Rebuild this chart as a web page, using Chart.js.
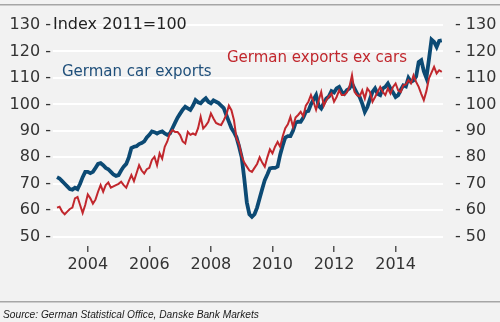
<!DOCTYPE html>
<html>
<head>
<meta charset="utf-8">
<script src="https://cdn.jsdelivr.net/npm/chart.js@4.4.0/dist/chart.umd.min.js"></script>
<style>
  html, body { margin: 0; padding: 0; background: #f2f2f2; }
  #wrap { width: 500px; height: 322px; position: relative; }
</style>
</head>
<body>
<div id="wrap"><canvas id="exports-chart" width="500" height="322"></canvas></div>
<script>
// Monthly index values, Jan 2003 - Jul 2015 (2011 = 100)
const startYear = 2003;
const carExports = [
  72.5, 72, 71, 70, 69, 68, 67.8, 68.5, 68, 70, 72.5, 74.5,
  74.5, 74, 74.5, 76, 77.5, 77.8, 77, 76, 75.5, 74.5, 73.5, 73,
  73.3, 75, 76.5, 77.5, 80, 83.5, 84, 84.2, 85, 85.4, 86, 87.5,
  88.5, 89.8, 89.5, 89, 89.5, 89.8, 89, 88.5, 89, 91, 93, 95,
  96.5, 98, 99.1, 98.5, 97.9, 99.5, 101.6, 100.8, 100.4, 101.5, 102.3, 101,
  100.4, 101.5, 101, 100.5, 99.5, 98.6, 96, 93.5, 91, 89.5, 87.5, 84,
  80, 72, 63, 58.5, 57.5, 58.5, 61, 64.5, 68, 71.4, 73.5, 75.8,
  76, 76, 76.5, 81, 84.5, 87.5, 88, 88, 90, 93, 93.5, 93.4,
  95, 97.2, 97.5, 100, 101.8, 103.5, 99.5, 98.5, 100.5, 102.2, 103, 105,
  104.5, 106, 106.6, 104.7, 104, 105.4, 106, 107.9, 106, 104.1, 102.8, 100.3,
  97.2, 99, 102, 104.7, 106, 104, 103.5, 106, 106.6, 107.9, 106, 104.5,
  102.8, 103.5, 105.5, 107.2, 106.8, 110, 108.5, 109.1, 110.5, 116, 116.7, 112.5,
  110, 117, 124.5, 123.6, 121.7, 124, 124.2
];
const exCars = [
  61, 61.3, 59.5, 58.5, 59.5, 60.5, 61, 64.5, 65, 62, 59, 62,
  66, 64.5, 62.5, 64, 67, 69.5, 67, 69.5, 70.5, 68.5, 69, 69.5,
  70, 70.8, 69.5, 68.5, 71, 73.3, 71, 74, 77, 75, 73.9, 75.5,
  76, 79, 80.2, 77, 81.5, 79.5, 84, 86, 89, 90.3, 89.6, 89.6,
  88.4, 86, 85.2, 89.6, 88.5, 89, 88.5, 91, 95.3, 90.9, 92, 93.4,
  96.6, 94.7, 93, 92.5, 92.2, 94, 96, 99.5, 97.8, 94, 87, 85,
  80.5, 78, 76.5, 75, 74.5, 76, 77.5, 80, 78, 76.4, 80, 83,
  81.5, 84, 85.8, 84, 88, 91, 92.5, 95.3, 91.5, 95, 96, 97.2,
  95.5, 99.5, 101, 103.5, 101, 98, 101.5, 104.7, 99.5, 101.6, 103, 104.1,
  101, 102.8, 105.3, 103.5, 103.5, 104.5, 106.6, 111, 104.7, 103.5, 103, 105.3,
  102.2, 106, 104.7, 101, 102.8, 104.7, 106.6, 104.7, 103.5, 106, 104.1, 106.6,
  107.9, 105.3, 104.7, 107.2, 107.5, 109.1, 108, 111, 108.5, 106.6, 104, 101.6,
  105, 109.8, 112, 114.2, 111.7, 112.9, 112.3
];
const yearTicks = [2004, 2006, 2008, 2010, 2012, 2014];
const indexTicks = [50, 60, 70, 80, 90, 100, 110, 120, 130];

const toPoints = arr => arr.map((v, i) => ({ x: startYear + i / 12, y: v }));

const FONT = "'DejaVu Sans', sans-serif";
const BLUE = '#0c4a74';
const RED = '#c1272d';

// Frame lines, series labels and source note
const decor = {
  id: 'decor',
  beforeDraw(chart) {
    const ctx = chart.ctx;
    ctx.save();
    ctx.fillStyle = '#f2f2f2';
    ctx.fillRect(0, 0, chart.width, chart.height);
    ctx.fillStyle = '#a6a6a6';
    ctx.fillRect(0, 4, chart.width, 1.5);
    ctx.fillRect(0, 301, chart.width, 1.5);
    ctx.restore();
  },
  afterDatasetsDraw(chart) {
    const ctx = chart.ctx;
    ctx.save();
    ctx.textBaseline = 'middle';
    ctx.font = '16px ' + FONT;
    ctx.fillStyle = '#222';
    ctx.fillText('Index 2011=100', 53, 25);
    ctx.font = '15px ' + FONT;
    ctx.fillStyle = '#1f4f7a';
    ctx.fillText('German car exports', 62, 72);
    ctx.fillStyle = RED;
    ctx.fillText('German exports ex cars', 227, 58);
    ctx.font = "italic 10.2px 'Liberation Sans', sans-serif";
    ctx.fillStyle = '#1a1a1a';
    ctx.fillText('Source: German Statistical Office, Danske Bank Markets', 3, 315);
    ctx.restore();
  }
};

const yTickOpts = {
  font: { size: 16, family: FONT },
  color: '#333'
};

new Chart(document.getElementById('exports-chart'), {
  type: 'line',
  data: {
    datasets: [
      {
        label: 'German exports ex cars',
        data: toPoints(exCars),
        borderColor: RED,
        borderWidth: 2,
        pointRadius: 0,
        tension: 0
      },
      {
        label: 'German car exports',
        data: toPoints(carExports),
        borderColor: BLUE,
        borderWidth: 3.8,
        pointRadius: 0,
        tension: 0
      }
    ]
  },
  options: {
    responsive: false,
    animation: false,
    layout: { padding: { top: 21, left: 0, right: 0, bottom: 0 } },
    plugins: { legend: { display: false }, tooltip: { enabled: false } },
    scales: {
      x: {
        type: 'linear',
        min: 2002.87,
        max: 2015.54,
        afterBuildTicks: s => { s.ticks = yearTicks.map(v => ({ value: v })); },
        afterFit: s => { s.height = 76; },
        ticks: {
          autoSkip: false,
          maxRotation: 0,
          padding: 3,
          font: { size: 16, family: FONT },
          color: '#333',
          callback: v => String(v)
        },
        grid: { drawOnChartArea: false, drawTicks: true, tickLength: 6, color: '#555', lineWidth: 1.5 },
        border: { display: false }
      },
      y: {
        position: 'left',
        min: 46.5,
        max: 131.5,
        afterBuildTicks: s => { s.ticks = indexTicks.map(v => ({ value: v })); },
        afterFit: s => { s.width = 53; },
        ticks: Object.assign({ padding: 2, callback: v => v + ' -' }, yTickOpts),
        grid: { color: '#ffffff', lineWidth: 2, drawTicks: false },
        border: { display: false }
      },
      y2: {
        position: 'right',
        min: 46.5,
        max: 131.5,
        afterBuildTicks: s => { s.ticks = indexTicks.map(v => ({ value: v })); },
        afterFit: s => { s.width = 57; },
        ticks: Object.assign({ padding: 4, callback: v => '- ' + v }, yTickOpts),
        grid: { display: false },
        border: { display: false }
      }
    }
  },
  plugins: [decor]
});
</script>
</body>
</html>
